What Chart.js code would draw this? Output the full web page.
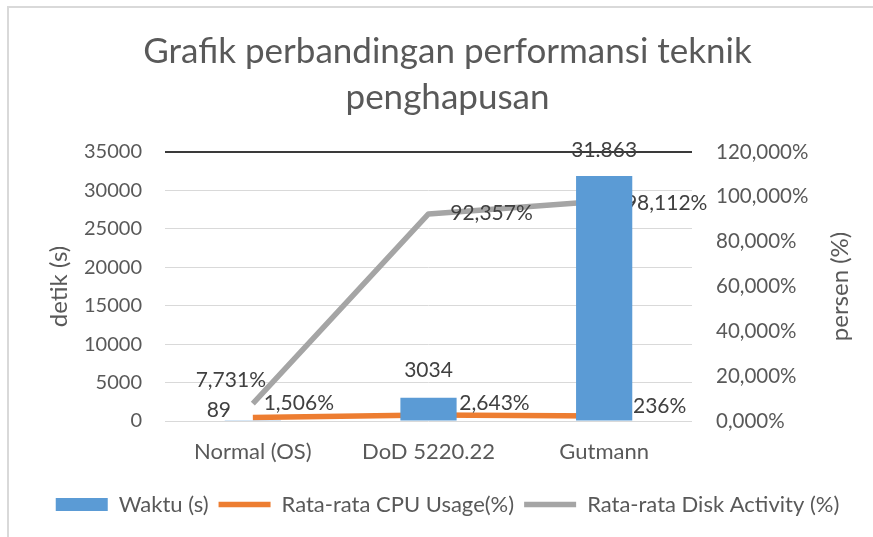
<!DOCTYPE html>
<html>
<head>
<meta charset="utf-8">
<script src="https://cdn.jsdelivr.net/npm/chart.js@4.4.1/dist/chart.umd.min.js"></script>
<style>
  html, body { margin: 0; padding: 0; background: #fff; }
  #wrap { position: relative; width: 873px; height: 537px; overflow: hidden; }
  #bingkai {
    position: absolute; left: 7px; top: 6px; width: 900px; height: 600px;
    border-top: 2px solid #d9d9d9; border-left: 2px solid #d9d9d9;
  }
  #grafik { position: absolute; left: 0; top: 0; }
</style>
</head>
<body>
<div id="wrap">
  <div id="bingkai"></div>
  <canvas id="grafik" width="873" height="537"></canvas>
</div>
<script>
// ── data ─────────────────────────────────────────────
const teknik = ['Normal (OS)', 'DoD 5220.22', 'Gutmann'];
const waktu = [89, 3034, 31863];                 // detik
const waktuLabel = ['89', '3034', '31.863'];
const cpuUsage = [1.506, 2.643, 2.236];          // persen
const diskActivity = [7.731, 92.357, 98.112];    // persen

// ── warna & posisi label ─────────────────────────────
const WARNA = {
  waktu: '#5b9bd5',
  cpu:   '#ed7d31',
  disk:  '#a5a5a5',
  teks:  '#595959',
  label: '#404040',
  grid:  '#d9d9d9',
};
const FONT = 'Lato';

// geser label relatif ke titik / puncak batang (dx, dy)
const geserWaktu = [[-34, -10], [0, -27], [0, -26]];
const geserCpu   = [[46, -14], [66, -12], [47, -10]];
const geserDisk  = [[-22, -23], [63, -1], [62, 2]];

function persen(v) {
  return v.toFixed(3).replace('.', ',') + '%';
}

function tulisLabel(chart, idx, teks, geser) {
  const ctx = chart.ctx;
  const meta = chart.getDatasetMeta(idx);
  ctx.save();
  ctx.font = '21px ' + FONT;
  ctx.fillStyle = WARNA.label;
  ctx.textAlign = 'center';
  ctx.textBaseline = 'middle';
  meta.data.forEach(function (el, i) {
    ctx.fillText(teks[i], el.x + geser[i][0], el.y + geser[i][1]);
  });
  ctx.restore();
}

// judul sumbu, keduanya dibaca dari bawah ke atas
function judulSumbu(chart, teks, x, size) {
  const ctx = chart.ctx;
  ctx.save();
  ctx.translate(x, (chart.chartArea.top + chart.chartArea.bottom) / 2);
  ctx.rotate(-Math.PI / 2);
  ctx.font = size + 'px ' + FONT;
  ctx.fillStyle = WARNA.teks;
  ctx.textAlign = 'center';
  ctx.textBaseline = 'middle';
  ctx.fillText(teks, 0, 0);
  ctx.restore();
}

// label garis digambar tepat setelah garisnya, jadi batang bisa menutupinya
const labelPlugin = {
  id: 'labelNilai',
  afterDatasetDraw(chart, args) {
    if (args.index === 1) tulisLabel(chart, 1, cpuUsage.map(persen), geserCpu);
    if (args.index === 2) tulisLabel(chart, 2, diskActivity.map(persen), geserDisk);
  },
  afterDatasetsDraw(chart) {
    tulisLabel(chart, 0, waktuLabel, geserWaktu);
  },
  afterDraw(chart) {
    judulSumbu(chart, 'detik (s)', chart.chartArea.left - 106, 24);
    judulSumbu(chart, 'persen (%)', chart.chartArea.right + 148, 24);
  }
};

Chart.defaults.font.family = FONT;
Chart.defaults.color = WARNA.teks;

new Chart(document.getElementById('grafik').getContext('2d'), {
  type: 'bar',
  data: {
    labels: teknik,
    datasets: [
      {
        label: 'Waktu (s)', data: waktu, yAxisID: 'y', order: 0,
        backgroundColor: WARNA.waktu, borderWidth: 0,
        categoryPercentage: 1, barPercentage: 0.32,
      },
      {
        type: 'line', label: 'Rata-rata CPU Usage(%)', data: cpuUsage, yAxisID: 'y1', order: 1,
        borderColor: WARNA.cpu, backgroundColor: WARNA.cpu, borderWidth: 5.5,
        pointRadius: 0, tension: 0, borderJoinStyle: 'round',
      },
      {
        type: 'line', label: 'Rata-rata Disk Activity (%)', data: diskActivity, yAxisID: 'y1', order: 2,
        borderColor: WARNA.disk, backgroundColor: WARNA.disk, borderWidth: 5.5,
        pointRadius: 0, tension: 0, borderJoinStyle: 'round',
      },
    ],
  },
  options: {
    responsive: false,
    animation: false,
    layout: { padding: { left: 22, right: 0, top: 0, bottom: 11.5 } },
    plugins: {
      title: {
        display: true,
        text: ['Grafik perbandingan performansi teknik', 'penghapusan'],
        color: WARNA.teks,
        font: { size: 35, weight: 'normal', lineHeight: 46 / 35 },
        padding: { top: 29, bottom: 31 },
      },
      legend: {
        position: 'bottom',
        labels: {
          usePointStyle: true, pointStyleWidth: 52, boxHeight: 13, padding: 10,
          color: WARNA.teks, font: { size: 22 },
          generateLabels(chart) {
            const items = Chart.defaults.plugins.legend.labels.generateLabels(chart);
            items.forEach(function (it) {
              const ds = chart.data.datasets[it.datasetIndex];
              if (ds.type === 'line') {
                it.pointStyle = 'line'; it.lineWidth = 5.5; it.strokeStyle = ds.borderColor;
              } else {
                it.pointStyle = 'rect'; it.lineWidth = 0;
              }
            });
            return items;
          },
        },
      },
      tooltip: { enabled: false },
    },
    scales: {
      x: {
        grid: { display: false },
        border: { display: false },
        ticks: { color: WARNA.teks, font: { size: 22 }, padding: 10 },
        afterFit(s) { s.height = 62.5; },
      },
      y: {
        position: 'left', min: 0, max: 35000,
        ticks: { stepSize: 5000, color: WARNA.teks, font: { size: 20 }, padding: 23,
                 callback: function (v) { return String(v); } },
        grid: {
          drawTicks: false,
          color: function (c) { return c.tick && c.tick.value === 35000 ? '#3a3a3a' : WARNA.grid; },
          lineWidth: function (c) { return c.tick && c.tick.value === 35000 ? 2 : 1; },
        },
        border: { display: false },
        afterFit(s) { s.width = 143; },
      },
      y1: {
        position: 'right', min: 0, max: 120,
        ticks: { stepSize: 20, color: WARNA.teks, font: { size: 20.5 }, padding: 24, callback: persen },
        grid: { display: false, drawTicks: false },
        border: { display: false },
        afterFit(s) { s.width = 181; },
      },
    },
  },
  plugins: [labelPlugin],
});
</script>
</body>
</html>
